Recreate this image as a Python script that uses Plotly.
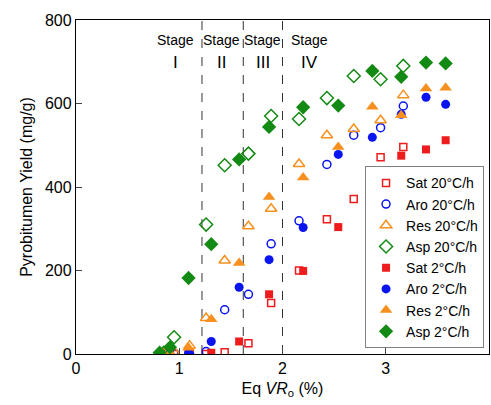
import plotly.graph_objects as go

x_2 = [0.81, 0.91, 1.09, 1.31, 1.58, 1.87, 2.20, 2.54, 2.87, 3.15, 3.39, 3.58]
sat_2 = [0, 0, 0, 3, 30, 143, 199, 304, 439, 475, 490, 512]
aro_2 = [0, 0, 2, 30, 160, 226, 303, 478, 519, 574, 615, 598]
res_2 = [0, 3, 15, 83, 218, 376, 423, 496, 592, 572, 636, 638]
asp_2 = [3, 16, 182, 263, 466, 544, 591, 595, 678, 664, 698, 696]

x_20 = [0.85, 0.95, 1.10, 1.26, 1.44, 1.67, 1.89, 2.16, 2.43, 2.69, 2.95, 3.17]
sat_20 = [0, 0, 0, 0, 4, 26, 122, 200, 323, 371, 471, 496]
aro_20 = [0, 2, 0, 6, 106, 143, 264, 319, 454, 524, 542, 594]
res_20 = [2, 5, 20, 86, 224, 306, 348, 455, 524, 539, 560, 620]
asp_20 = [3, 40, None, 310, 452, 480, 570, 563, 613, 666, 658, 690]

stage_bounds = [1.22, 1.62, 2.0]
stage_x = [0.96, 1.41, 1.81, 2.26]
stage_labels = ["I", "II", "III", "IV"]

RED = "#ee1c1c"
BLUE = "#0a14f0"
ORANGE = "#f7901e"
GREEN = "#138a13"
FONT = "Liberation Sans, Arial, sans-serif"

fig = go.Figure()

series = [
    ("Sat 20°C/h", x_20, sat_20, "square-open", RED, 7),
    ("Aro 20°C/h", x_20, aro_20, "circle-open", BLUE, 8),
    ("Res 20°C/h", x_20, res_20, "triangle-up-open", ORANGE, 10),
    ("Asp 20°C/h", x_20, asp_20, "diamond-open", GREEN, 10),
    ("Sat 2°C/h", x_2, sat_2, "square", RED, 8),
    ("Aro 2°C/h", x_2, aro_2, "circle", BLUE, 9),
    ("Res 2°C/h", x_2, res_2, "triangle-up", ORANGE, 11),
    ("Asp 2°C/h", x_2, asp_2, "diamond", GREEN, 11),
]
for name, xs, ys, sym, col, sz in series:
    fig.add_trace(go.Scatter(
        x=xs, y=ys, mode="markers", name=name,
        marker=dict(symbol=sym, color=col, size=sz,
                    line=dict(color=col, width=1.5 if "open" in sym else 0)),
    ))

for b in stage_bounds:
    fig.add_shape(type="line", x0=b, x1=b, y0=0, y1=800, xref="x", yref="y",
                  line=dict(color="#333333", width=1, dash="dash"), layer="below")

for sx, lab in zip(stage_x, stage_labels):
    fig.add_annotation(x=sx, y=752, xref="x", yref="y", text="Stage", showarrow=False,
                       font=dict(size=14, color="black", family=FONT))
    fig.add_annotation(x=sx, y=698, xref="x", yref="y", text=lab, showarrow=False,
                       font=dict(size=17, color="black", family=FONT))

fig.update_layout(
    width=491, height=405,
    margin=dict(l=76, r=2, t=20, b=51),
    paper_bgcolor="white", plot_bgcolor="white",
    font=dict(family=FONT, size=15, color="black"),
    showlegend=True,
    legend=dict(x=0.988, y=0.017, xanchor="right", yanchor="bottom",
                bordercolor="#808080", borderwidth=1, bgcolor="white",
                font=dict(size=14, family=FONT), tracegroupgap=0,
                itemwidth=30),
    xaxis=dict(range=[0, 4], tickvals=[0, 1, 2, 3, 4], ticks="inside", ticklen=6,
               showline=True, linecolor="black", linewidth=1.3, mirror=True,
               showgrid=False, zeroline=False, tickfont=dict(size=16),
               title=dict(text="Eq <i>VR</i><sub>o</sub> (%)", font=dict(size=16), standoff=6)),
    yaxis=dict(range=[0, 800], tickvals=[0, 200, 400, 600, 800], ticks="inside", ticklen=6,
               showline=True, linecolor="black", linewidth=1.3, mirror=True,
               showgrid=False, zeroline=False, tickfont=dict(size=16),
               title=dict(text="Pyrobitumen Yield (mg/g)", font=dict(size=16), standoff=8)),
)

fig.write_html("out.html")
